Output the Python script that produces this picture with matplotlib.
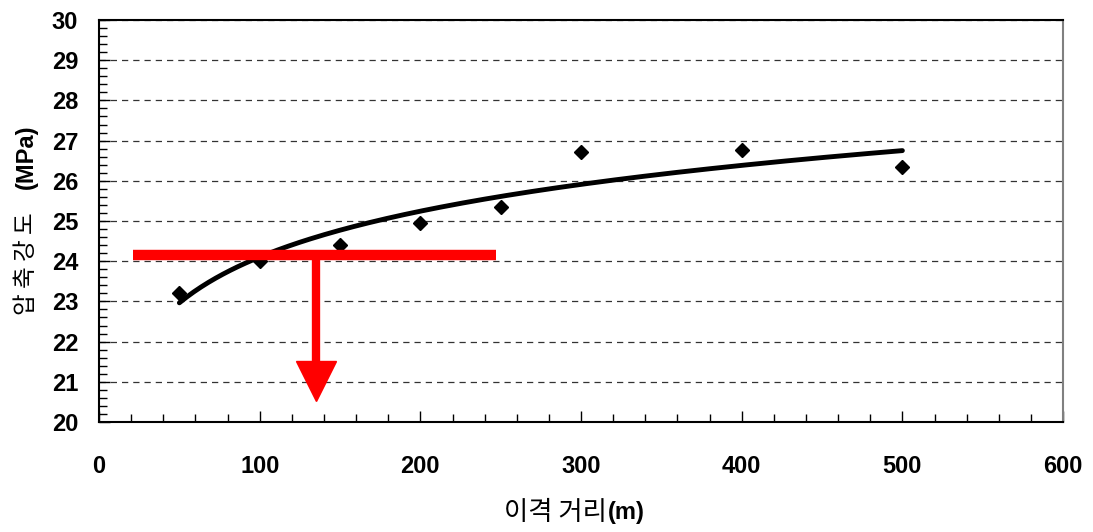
import numpy as np
import matplotlib.pyplot as plt
from matplotlib.ticker import MultipleLocator

# 이격 거리별 압축강도 측정값
distance = [50, 100, 150, 200, 250, 300, 400, 500]
strength = [23.21, 24.0, 24.40, 24.95, 25.35, 26.72, 26.77, 26.34]

# 기준선 (빨간 표시)
limit_strength = 24.15
limit_x = [21, 247]
arrow_x = 135
arrow_tip = 21.02

num_font = ['Liberation Sans', 'DejaVu Sans']
kr_font = ['Noto Sans CJK KR', 'DejaVu Sans']

fig = plt.figure(figsize=(10.93, 5.32), dpi=100)
ax = fig.add_axes([0.0906, 0.2068, 0.882, 0.7556])

# 로그 추세선
b, a = np.polyfit(np.log(distance), strength, 1)
xs = np.linspace(min(distance), max(distance), 200)
ax.plot(xs, a + b * np.log(xs), color='black', lw=3.5, solid_capstyle='round', zorder=3)

ax.plot(distance, strength, 'D', color='black', markersize=7, zorder=4)

# 빨간 기준선 + 화살표
ax.plot(limit_x, [limit_strength, limit_strength], color='#ff0000', lw=7.5, solid_capstyle='butt', zorder=5)
ax.plot([arrow_x, arrow_x], [limit_strength, arrow_tip], color='#ff0000', lw=6, solid_capstyle='butt', zorder=5)
ax.plot([arrow_x], [arrow_tip], 'v', color='#ff0000', markersize=29, zorder=5)

ax.set_xlim(0, 600)
ax.set_ylim(20, 30)
ax.xaxis.set_major_locator(MultipleLocator(100))
ax.xaxis.set_minor_locator(MultipleLocator(20))
ax.yaxis.set_major_locator(MultipleLocator(1))
ax.yaxis.set_minor_locator(MultipleLocator(0.2))

ax.tick_params(which='both', direction='in', color='black', width=1)
ax.tick_params(which='major', length=8)
ax.tick_params(which='minor', length=6)
ax.tick_params(axis='x', which='major', pad=24)
ax.tick_params(axis='y', which='major', pad=15)
for lab in ax.get_xticklabels() + ax.get_yticklabels():
    lab.set_family(num_font)
    lab.set_fontweight('bold')
    lab.set_fontsize(17)

ax.grid(axis='y', which='major', color='#333333', linestyle=(0, (5, 4)), lw=0.9)
ax.spines['left'].set_linewidth(1.5)
ax.spines['bottom'].set_linewidth(1.5)
ax.spines['top'].set_linewidth(1.5)
ax.spines['right'].set_color('#808080')
ax.spines['right'].set_linewidth(1.5)

# 축 제목
fig.text(0.555, 0.036, '이격 거리', family=kr_font, fontsize=19, ha='right', va='center')
fig.text(0.556, 0.036, '(m)', family=num_font, fontweight='bold', fontsize=17, ha='left', va='center')
fig.text(0.024, 0.505, '압 축 강 도', family=kr_font, fontsize=17, rotation=90, ha='center', va='center')
fig.text(0.024, 0.705, '(MPa)', family=num_font, fontweight='bold', fontsize=17, rotation=90, ha='center', va='center')

fig.savefig('out.png', dpi=100)
